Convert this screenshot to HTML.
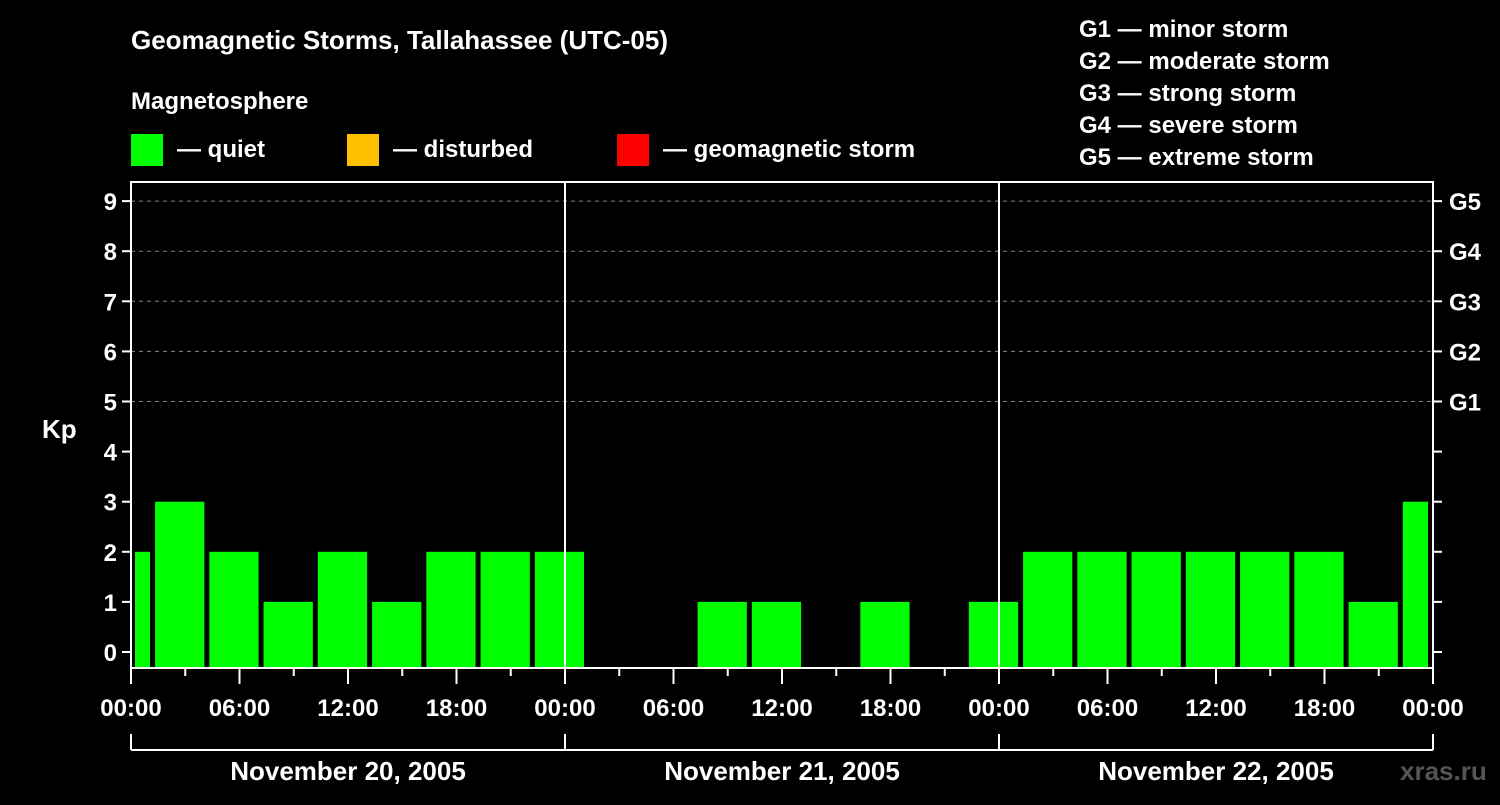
<!DOCTYPE html>
<html><head><meta charset="utf-8"><style>
body{margin:0;background:#000;width:1500px;height:800px;overflow:hidden;font-family:"Liberation Sans",sans-serif}
svg text{font-family:"Liberation Sans",sans-serif;font-weight:bold;fill:#fff}
</style></head><body>
<svg id="chart" width="1500" height="800">
<text x="131" y="49" font-size="26">Geomagnetic Storms, Tallahassee (UTC-05)</text>
<text x="131" y="109" font-size="24">Magnetosphere</text>
<rect x="131" y="134" width="32" height="32" fill="#00ff00"/>
<text x="177" y="157" font-size="24">— quiet</text>
<rect x="347" y="134" width="32" height="32" fill="#ffc000"/>
<text x="393" y="157" font-size="24">— disturbed</text>
<rect x="617" y="134" width="32" height="32" fill="#ff0000"/>
<text x="663" y="157" font-size="24">— geomagnetic storm</text>
<g font-size="24">
<text x="1079" y="37">G1 — minor storm</text>
<text x="1079" y="69">G2 — moderate storm</text>
<text x="1079" y="101">G3 — strong storm</text>
<text x="1079" y="133">G4 — severe storm</text>
<text x="1079" y="165">G5 — extreme storm</text>
</g>
<text x="42" y="438" font-size="26">Kp</text>
<text x="1400" y="780" font-size="26" fill="#555" style="fill:#555">xras.ru</text>
<g id="grid"></g><g id="bars"></g><g id="axes"></g>
</svg>
<script>
const kpValues=[2,3,2,1,2,1,2,2,2, 0,0,1,1,0,1,0,1, 2,2,2,2,2,2,1,3];
const yTicks=[0,1,2,3,4,5,6,7,8,9];
const gLabels=["G1","G2","G3","G4","G5"];
const dayLabels=["November 20, 2005","November 21, 2005","November 22, 2005"];
const timeLabels=["00:00","06:00","12:00","18:00"];
const L=131,R=1433,T=182,B=668;
const xs=h=>L+h*(R-L)/72;
const ys=v=>652-v*50.1;
const NS="http://www.w3.org/2000/svg";
function mk(p,tag,at){const e=document.createElementNS(NS,tag);for(const k in at)e.setAttribute(k,at[k]);p.appendChild(e);return e;}
const grid=document.getElementById('grid'),bars=document.getElementById('bars'),axes=document.getElementById('axes');
for(let v=5;v<=9;v++){const l=mk(grid,'line',{x1:L,x2:R,y1:ys(v),y2:ys(v),stroke:'#888','stroke-dasharray':'4,4','stroke-width':1});

}
kpValues.forEach((v,i)=>{if(v<=0)return;const s=-2+3*i;let x1=Math.max(xs(s)+6,L+4),x2=Math.min(xs(s+3)+1,R-5);
const r=mk(bars,'rect',{x:x1,y:ys(v),width:x2-x1,height:B-1-ys(v),fill:'#00ff00'});

});
mk(axes,'rect',{x:L,y:T,width:R-L,height:B-T,fill:'none',stroke:'#fff','stroke-width':2});
[24,48].forEach(h=>mk(axes,'line',{x1:xs(h),x2:xs(h),y1:T,y2:B,stroke:'#fff','stroke-width':2}));
yTicks.forEach(v=>{mk(axes,'line',{x1:L-9,x2:L,y1:ys(v),y2:ys(v),stroke:'#fff','stroke-width':2});
mk(axes,'line',{x1:R,x2:R+9,y1:ys(v),y2:ys(v),stroke:'#fff','stroke-width':2});
const t=mk(axes,'text',{x:L-14,y:ys(v)+9,'font-size':24,'text-anchor':'end'});t.textContent=v;

});
gLabels.forEach((g,i)=>{const t=mk(axes,'text',{x:1449,y:ys(5+i)+9,'font-size':24});t.textContent=g;

});
for(let h=0;h<=72;h+=3){const major=h%6===0;mk(axes,'line',{x1:xs(h),x2:xs(h),y1:B,y2:B+(major?16:8),stroke:'#fff','stroke-width':2});
if(major&&h%6===0){const t=mk(axes,'text',{x:xs(h),y:716,'font-size':24,'text-anchor':'middle'});t.textContent=timeLabels[(h/6)%4];

}}
mk(axes,'line',{x1:xs(0),x2:xs(72),y1:750,y2:750,stroke:'#fff','stroke-width':2});
[0,24,48,72].forEach(h=>mk(axes,'line',{x1:xs(h),x2:xs(h),y1:734,y2:750,stroke:'#fff','stroke-width':2}));
dayLabels.forEach((d,i)=>{const t=mk(axes,'text',{x:xs(12+24*i),y:780,'font-size':26,'text-anchor':'middle'});t.textContent=d;

});
</script>
</body></html>
